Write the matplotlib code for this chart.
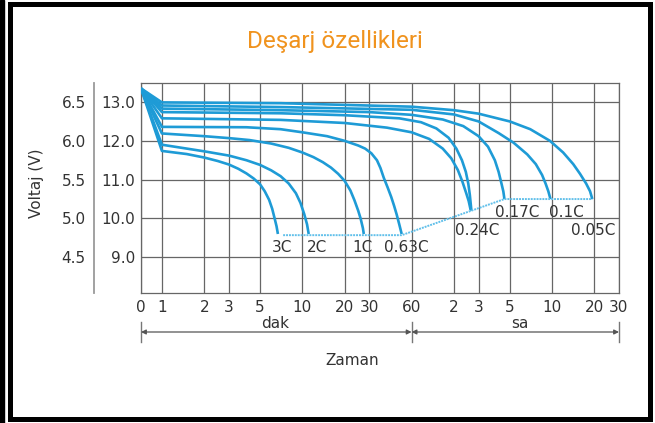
import numpy as np
import matplotlib
matplotlib.use("Agg")
import matplotlib.pyplot as plt
import matplotlib.transforms as mtransforms
from matplotlib.patches import Rectangle

# time in minutes, voltage (12V scale)
t_3c = [0, 1, 1.5, 2, 2.5, 3, 3.5, 4, 4.5, 5, 5.4, 5.8, 6.1, 6.35, 6.55, 6.7]
v_3c = [13.35, 11.74, 11.66, 11.57, 11.48, 11.39, 11.28, 11.16, 11.03, 10.88, 10.7, 10.48,
        10.25, 10.0, 9.8, 9.6]
t_2c = [0, 1, 2, 3, 4, 5, 6, 7, 8, 9, 9.7, 10.3, 10.8, 11.1]
v_2c = [13.35, 11.90, 11.73, 11.62, 11.5, 11.38, 11.24, 11.09, 10.9, 10.65, 10.4, 10.12, 9.85, 9.6]
t_1c = [0, 1, 2, 3, 4.2, 6, 8, 10, 12, 14, 16, 18, 20, 22, 23.5, 25, 26, 27, 27.4]
v_1c = [13.35, 12.19, 12.12, 12.07, 12.02, 11.93, 11.82, 11.7, 11.58, 11.45, 11.31, 11.15,
        10.97, 10.72, 10.47, 10.2, 10.0, 9.75, 9.6]
t_063c = [0, 1, 4, 7, 10, 15, 20, 25, 28, 31, 34, 36, 38, 40.5, 43, 45, 47, 49, 51]
v_063c = [13.35, 12.36, 12.35, 12.3, 12.22, 12.12, 12.0, 11.88, 11.8, 11.68, 11.5, 11.3,
          11.05, 10.8, 10.55, 10.33, 10.1, 9.85, 9.6]
t_x = [0, 1, 7, 20, 40, 60, 80, 100, 115, 128, 138, 147, 153, 158]
v_x = [13.35, 12.58, 12.54, 12.46, 12.34, 12.22, 12.05, 11.8, 11.55, 11.25, 10.95, 10.65,
       10.45, 10.22]
t_024c = [0, 1, 7, 20, 49, 70, 90, 110, 125, 137, 146, 152, 156, 160]
v_024c = [13.35, 12.74, 12.71, 12.66, 12.58, 12.48, 12.32, 12.08, 11.8, 11.5, 11.2, 10.9,
          10.6, 10.2]
t_017c = [0, 1, 7, 30, 60, 100, 140, 180, 210, 235, 250, 262, 270, 275]
v_017c = [13.35, 12.83, 12.79, 12.74, 12.67, 12.55, 12.38, 12.12, 11.85, 11.5, 11.2, 10.9,
          10.7, 10.5]
t_01c = [0, 1, 7, 60, 120, 180, 250, 320, 400, 460, 510, 540, 565, 585]
v_01c = [13.35, 12.91, 12.87, 12.8, 12.68, 12.5, 12.2, 11.95, 11.65, 11.4, 11.12, 10.9,
         10.7, 10.5]
t_005c = [0, 1, 7, 60, 120, 180, 300, 420, 580, 720, 850, 950, 1050, 1120, 1162]
v_005c = [13.35, 12.99, 12.97, 12.88, 12.79, 12.7, 12.5, 12.3, 12.0, 11.7, 11.4, 11.15,
          10.9, 10.7, 10.5]

curves = [(t_3c, v_3c), (t_2c, v_2c), (t_1c, v_1c), (t_063c, v_063c), (t_x, v_x),
          (t_024c, v_024c), (t_017c, v_017c), (t_01c, v_01c), (t_005c, v_005c)]

# end-voltage line
cut_t = [7.3, 51, 275, 1162]
cut_v = [9.57, 9.57, 10.5, 10.5]

labels = ["3C", "2C", "1C", "0.63C", "0.24C", "0.17C", "0.1C", "0.05C"]
label_t = [7.14, 12.66, 26.9, 55.3, 176.8, 340, 759, 1181]
label_v = [9.24, 9.24, 9.24, 9.24, 9.70, 10.16, 10.16, 9.70]

xtick_pos = [0, 1, 2, 3, 5, 10, 20, 30, 60, 120, 180, 300, 600, 1200, 1800]
xtick_lab = ["0", "1", "2", "3", "5", "10", "20", "30", "60", "2", "3", "5", "10", "20", "30"]
ytick_12 = [9, 10, 11, 12, 13]
ytick_6 = [4.5, 5.0, 5.5, 6.0, 6.5]

BLUE = "#1e9bd6"
TXT = "#333333"
GRID = "#666666"
K = 0.149


def fwd(t):
    t = np.asarray(t, dtype=float)
    return np.where(t >= 1, np.log10(np.maximum(t, 1)), (t - 1) * K)


def inv(u):
    u = np.asarray(u, dtype=float)
    return np.where(u >= 0, np.power(10.0, np.clip(u, 0, 12)), 1 + u / K)


fig = plt.figure(figsize=(6.55, 4.23), dpi=100)
ax = fig.add_axes([141 / 655, 1 - 293 / 423, 478 / 655, 210 / 423])
ax.set_xscale("function", functions=(fwd, inv))
ax.set_xlim(0, 1800)
ax.set_ylim(8.08, 13.49)

for t, v in curves:
    ax.plot(t, v, color=BLUE, lw=1.9, solid_joinstyle="round", solid_capstyle="butt", zorder=3)
ax.plot(cut_t, cut_v, color="#62c0ea", lw=1.4, ls=(0, (1, 0.5)), zorder=3)

for s, x, y in zip(labels, label_t, label_v):
    ax.text(x, y, s, ha="center", va="center", fontsize=11, color=TXT)

ax.set_xticks(xtick_pos)
ax.set_xticklabels(xtick_lab)
ax.set_yticks(ytick_12)
ax.set_yticklabels(["%.1f" % v for v in ytick_12])
ax.tick_params(length=0, labelsize=11, labelcolor=TXT)
ax.tick_params(axis="x", pad=5)
ax.tick_params(axis="y", pad=4)
ax.minorticks_off()
ax.grid(True, color=GRID, lw=0.9)
for sp in ax.spines.values():
    sp.set_color(GRID)
    sp.set_linewidth(0.9)

sec = ax.secondary_yaxis((94 - 141) / 478, functions=(lambda v: v / 2, lambda v: v * 2))
sec.set_yticks(ytick_6)
sec.set_yticklabels(["%.1f" % v for v in ytick_6])
sec.tick_params(length=0, labelsize=11, labelcolor=TXT, pad=6)
sec.spines["left"].set_color("#9a9a9a")
sec.spines["left"].set_linewidth(1.3)

# time unit arrows
tr = mtransforms.blended_transform_factory(ax.transData, ax.transAxes)
ya = (293 - 332) / 210
for a, b in [(0, 60), (60, 1800)]:
    ax.annotate("", xy=(b, ya), xytext=(a, ya), xycoords=tr, textcoords=tr,
                arrowprops=dict(arrowstyle="<|-|>", color="#555555", lw=0.9,
                                mutation_scale=7, shrinkA=0, shrinkB=0),
                annotation_clip=False)
for x in [0, 60, 1800]:
    ax.plot([x, x], [(293 - 322) / 210, (293 - 342) / 210], color="#777777", lw=1,
            transform=tr, clip_on=False)
ax.text(6.36, (293 - 323) / 210, "dak", transform=tr, ha="center", va="center",
        fontsize=11, color=TXT)
ax.text(352, (293 - 323) / 210, "sa", transform=tr, ha="center", va="center",
        fontsize=11, color=TXT)

fig.text(352 / 655, 1 - 360 / 423, "Zaman", ha="center", va="center", fontsize=11, color=TXT)
fig.text(36 / 655, 1 - 183 / 423, "Voltaj (V)", rotation=90, ha="center", va="center",
         fontsize=11, color=TXT)
fig.text(335 / 655, 1 - 48 / 423, "Deşarj özellikleri", ha="center", va="baseline",
         fontsize=17.5, color="#f0931e", family=["Roboto", "DejaVu Sans"])

# outer frame
fr = fig.add_axes([0, 0, 1, 1], zorder=-1)
fr.set_xlim(0, 655)
fr.set_ylim(423, 0)
fr.axis("off")
fr.add_patch(Rectangle((0, 0), 4, 423, color="black"))
fr.add_patch(Rectangle((10, 4.5), 639.5, 415, fill=False, ec="black", lw=3.6))

fig.savefig("out.png", dpi=100)
